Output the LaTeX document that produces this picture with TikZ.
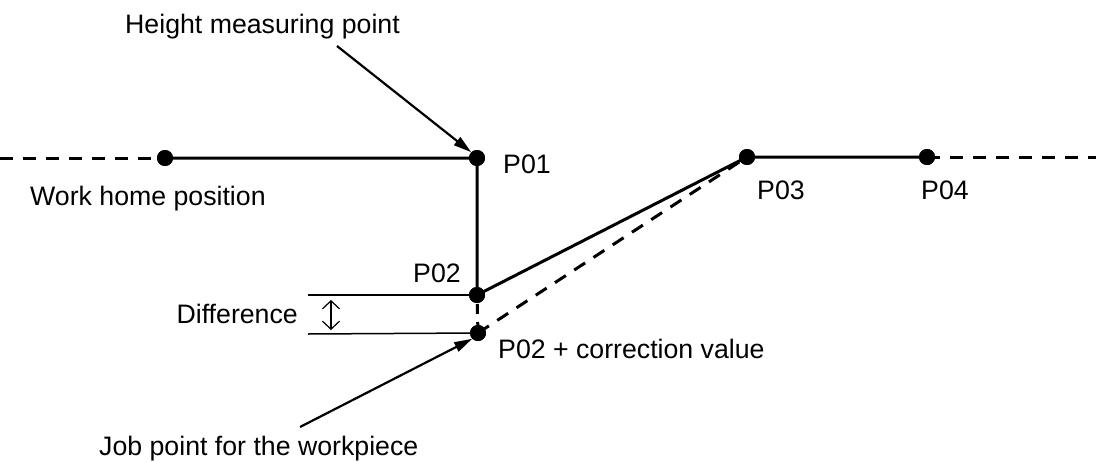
\documentclass[tikz,border=0pt]{standalone}
\usepackage{fontspec}
\setmainfont{Liberation Sans}
\usetikzlibrary{arrows.meta}
\begin{document}
\begin{tikzpicture}[x=1pt,y=-1pt,
  dot/.style={circle,fill=black,minimum size=16pt,inner sep=0pt},
  lbl/.style={anchor=base west,inner sep=0pt,font=\fontsize{26.7}{30}\selectfont},
  path/.style={line width=3pt},
  dashpath/.style={line width=3pt,dash pattern=on 13pt off 10pt},
  thin/.style={line width=1.5pt},
  pointer/.style={line width=2.2pt,-{Triangle[length=18pt,width=10pt]}},
  dim/.style={line width=1.2pt,{Straight Barb[length=8pt,width=17pt]}-{Straight Barb[length=8pt,width=17pt]}}]
\useasboundingbox (0,0) rectangle (1096,461);

% points of the path
\node[dot] (home) at (165,158) {};
\node[dot] (p01) at (477,158) {};
\node[dot] (p02) at (477,295) {};
\node[dot] (p02c) at (478,333) {};
\node[dot] (p03) at (747,157) {};
\node[dot] (p04) at (927,157) {};
\coordinate (lend) at (0,158);
\coordinate (rend) at (1096,157);

% path segments
\draw[dashpath] (lend) -- (home.center);
\draw[path] (home.center) -- (p01.center) -- (p02.center) -- (p03.center) -- (p04.center);
\draw[dashpath] (p04.center) -- (rend);
\draw[line width=3pt,dash pattern=on 10pt off 8pt,dash phase=-9pt] (p02.center) -- (p02c.center);
\draw[dashpath] (p02c.center) -- (p03.center);

% redraw dots on top
\foreach \n in {home,p01,p02,p02c,p03,p04} \fill (\n) circle (8pt);

% difference dimension
\coordinate (d1) at (308,295);
\coordinate (d2) at (308,334);
\draw[thin] (d1) -- (p02.center);
\draw[thin] (d2) -- (p02c.center);
\coordinate (a1) at (331,300);
\coordinate (a2) at (331,330);
\draw[dim] (a1) -- (a2);

% labels
\node[lbl] (tHeight) at (125,33) {Height measuring point};
\node[lbl] (tHome) at (30,205) {Work home position};
\node[lbl] (tP01) at (503,173) {P01};
\node[lbl] (tP02) at (413,282) {P02};
\node[lbl] (tP03) at (757,199) {P03};
\node[lbl] (tP04) at (921,199) {P04};
\node[lbl] (tP02c) at (498,358) {P02 + correction value};
\node[lbl,anchor=base east] (tDiff) at (298,323) {Difference};
\node[lbl] (tJob) at (99,455) {Job point for the workpiece};

% pointer arrows
\coordinate (h0) at (337,46);
\coordinate (j0) at (300,427);
\draw[pointer] (h0) -- (p01.north west);
\draw[pointer] (j0) -- (p02c.south west);
\end{tikzpicture}
\end{document}
